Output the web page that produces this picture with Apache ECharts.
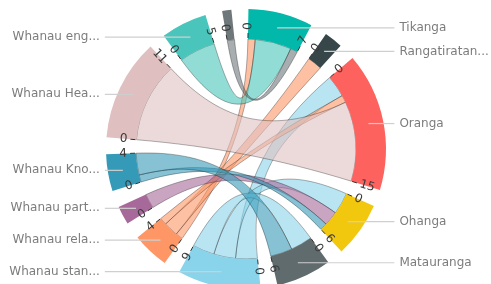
<!DOCTYPE html>
<html>
<head>
<meta charset="utf-8">
<script src="https://cdn.jsdelivr.net/npm/echarts@6/dist/echarts.min.js"></script>
<style>
  html, body { margin: 0; padding: 0; background: #fff; }
  #main { width: 491px; height: 284px; }
</style>
</head>
<body>
<div id="main"></div>
<script>
// nodes, clockwise from the top (last one has no label in the picture)
var nodeNames = ['Tikanga', 'Rangatiratan...', 'Oranga', 'Ohanga', 'Matauranga',
  'Whanau stan...', 'Whanau rela...', 'Whanau part...', 'Whanau Kno...',
  'Whanau Hea...', 'Whanau eng...', 'Other'];
var hiddenLabels = ['Other'];

// links: source -> target, value (sorted by source, then target, like the d3 chord)
var linkSources = ['Whanau stan...', 'Whanau stan...', 'Whanau stan...',
  'Whanau rela...', 'Whanau rela...', 'Whanau rela...',
  'Whanau part...', 'Whanau Kno...', 'Whanau Kno...',
  'Whanau Hea...', 'Whanau eng...', 'Other'];
var linkTargets = ['Oranga', 'Ohanga', 'Matauranga',
  'Tikanga', 'Rangatiratan...', 'Oranga',
  'Ohanga', 'Ohanga', 'Matauranga',
  'Oranga', 'Tikanga', 'Tikanga'];
var linkValues = [3, 3, 3, 1, 2, 1, 2, 1, 3, 11, 5, 1];

// power bi default colours
var palette = ['#01B8AA', '#374649', '#FD625E', '#F2C80F', '#5F6B6D', '#8AD4EB',
  '#FE9666', '#A66999', '#3599B8', '#DFBFBF', '#4AC5BB', '#6E7779'];

var CX = 246, CY = 149;
var R_IN = 110, R_OUT = 140;
var START = 89;     // echarts angle of the first node edge
var PAD = 7;        // gap between nodes, degrees

var chart = echarts.init(document.getElementById('main'));

var totals = nodeNames.map(function (n) {
  var t = 0;
  for (var i = 0; i < linkValues.length; i++) {
    if (linkSources[i] === n || linkTargets[i] === n) t += linkValues[i];
  }
  return t;
});
var sum = totals.reduce(function (a, b) { return a + b; }, 0);
var unit = (360 - PAD * nodeNames.length) / sum;

// clock angles (0 = top, clockwise) of each node's start
var nodeStart = [];
var acc = 90 - START;
totals.forEach(function (t) {
  nodeStart.push(acc);
  acc += t * unit + PAD;
});

var nodes = nodeNames.map(function (n, i) {
  return { name: n, itemStyle: { color: palette[i] } };
});
var links = linkValues.map(function (v, i) {
  return { source: linkSources[i], target: linkTargets[i], value: v };
});

// label ring: same midpoints as the chord arcs
var gapValue = PAD / unit;
var labelItems = nodeNames.map(function (n, i) {
  var mid = nodeStart[i] + totals[i] * unit / 2;
  var item = { name: n, value: totals[i] + gapValue,
    labelLine: { length2: mid < 180 ? 26 : 18 } };
  if (hiddenLabels.indexOf(n) >= 0) {
    item.label = { show: false };
    item.labelLine = { show: false };
  }
  return item;
});

// tick labels at both ends of each arc
var tickData = [];
totals.forEach(function (t, i) {
  tickData.push([nodeStart[i], 0]);
  if (t >= 3) tickData.push([nodeStart[i] + t * unit, t]);
});

function renderTick(params, api) {
  var a = api.value(0);
  var th = a * Math.PI / 180;
  var sx = Math.sin(th), sy = -Math.cos(th);
  var right = a < 180;
  var rot = (right ? 90 - a : 270 - a) * Math.PI / 180;
  return {
    type: 'group',
    children: [{
      type: 'line',
      shape: { x1: CX + sx * 111, y1: CY + sy * 111, x2: CX + sx * 116, y2: CY + sy * 116 },
      style: { stroke: '#333', lineWidth: 1 }
    }, {
      type: 'text',
      x: CX + sx * 119,
      y: CY + sy * 119,
      rotation: rot,
      style: {
        text: String(api.value(1)),
        fill: '#3a3a3a',
        fontSize: 12,
        fontFamily: 'DejaVu Sans',
        align: right ? 'left' : 'right',
        verticalAlign: 'middle'
      }
    }]
  };
}

chart.setOption({
  animation: false,
  series: [{
    type: 'chord',
    center: [CX, CY],
    radius: [R_IN, R_OUT],
    startAngle: START,
    clockwise: true,
    padAngle: PAD,
    label: { show: false },
    itemStyle: { borderRadius: 0 },
    lineStyle: { color: 'source', opacity: 0.6, width: 0.5 },
    data: nodes,
    links: links
  }, {
    // invisible ring only used for the outside labels and their lines
    type: 'pie',
    center: [CX, CY],
    radius: [124, 125],
    startAngle: START + PAD / 2,
    clockwise: true,
    silent: true,
    z: 5,
    itemStyle: { color: 'rgba(0,0,0,0)' },
    label: {
      alignTo: 'labelLine',
      bleedMargin: 0,
      color: '#7c7c7c',
      fontSize: 12,
      fontFamily: 'DejaVu Sans'
    },
    labelLine: { length: 0, lineStyle: { color: '#cfcfcf', width: 1.2 } },
    data: labelItems
  }, {
    type: 'custom',
    coordinateSystem: 'none',
    silent: true,
    z: 4,
    renderItem: renderTick,
    data: tickData
  }]
});
</script>
</body>
</html>
